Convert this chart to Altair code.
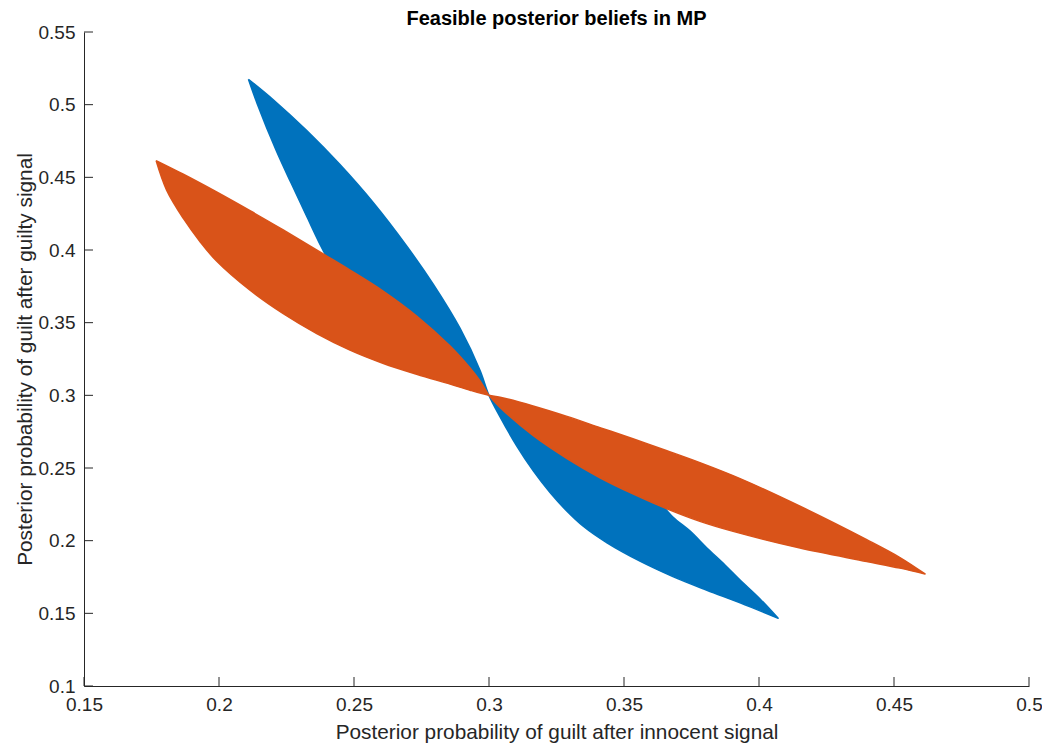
import altair as alt
import pandas as pd

# ---- data (posterior after innocent signal = x, after guilty signal = y)
# Blue region: upper lobe right edge (tip -> centre)
BLUE_UR_X = [0.2109, 0.2201, 0.2325, 0.2448, 0.2571, 0.2695, 0.2794, 0.2893, 0.2967, 0.3000]
BLUE_UR_Y = [0.5175, 0.5034, 0.4822, 0.4588, 0.4327, 0.4028, 0.3763, 0.3460, 0.3171, 0.3000]
# Blue lower lobe, lower edge (after centre -> tip)
BLUE_LL_X = [0.3041, 0.3103, 0.3164, 0.3226, 0.3288, 0.3349, 0.3437, 0.3559, 0.3681, 0.3807, 0.3930, 0.4071]
BLUE_LL_Y = [0.2852, 0.2651, 0.2480, 0.2331, 0.2204, 0.2099, 0.1985, 0.1859, 0.1753, 0.1659, 0.1572, 0.1466]
# Blue lower lobe, upper edge (tip -> centre)
BLUE_LU_X = [0.4071, 0.4004, 0.3930, 0.3874, 0.3807, 0.3744, 0.3681, 0.3596, 0.3485, 0.3337, 0.3189, 0.3078, 0.3000]
BLUE_LU_Y = [0.1466, 0.1599, 0.1729, 0.1833, 0.1950, 0.2067, 0.2163, 0.2335, 0.2473, 0.2645, 0.2796, 0.2916, 0.3000]
# Blue upper lobe left edge (after centre -> tip)
BLUE_UL_X = [0.2893, 0.2781, 0.2670, 0.2559, 0.2467, 0.2389, 0.2326, 0.2267, 0.2211, 0.2141, 0.2109]
BLUE_UL_Y = [0.3123, 0.3247, 0.3381, 0.3557, 0.3755, 0.3986, 0.4227, 0.4461, 0.4688, 0.5009, 0.5175]

# Orange region: left lobe upper edge (tip -> centre)
ORNG_LU_X = [0.1767, 0.1868, 0.1991, 0.2115, 0.2238, 0.2386, 0.2485, 0.2609, 0.2732, 0.2856, 0.2930, 0.2967, 0.3000]
ORNG_LU_Y = [0.4615, 0.4521, 0.4399, 0.4270, 0.4138, 0.3973, 0.3862, 0.3716, 0.3546, 0.3339, 0.3188, 0.3099, 0.3000]
# Orange right lobe lower edge (after centre -> tip)
ORNG_RL_X = [0.3041, 0.3163, 0.3289, 0.3411, 0.3533, 0.3659, 0.3781, 0.3904, 0.4152, 0.4399, 0.4522, 0.4615]
ORNG_RL_Y = [0.2917, 0.2724, 0.2565, 0.2433, 0.2322, 0.2219, 0.2133, 0.2064, 0.1949, 0.1857, 0.1811, 0.1771]
# Orange right lobe upper edge (tip -> centre)
ORNG_RU_X = [0.4615, 0.4522, 0.4399, 0.4152, 0.3930, 0.3781, 0.3659, 0.3533, 0.3411, 0.3289, 0.3163, 0.3041, 0.3000]
ORNG_RU_Y = [0.1771, 0.1884, 0.2007, 0.2237, 0.2427, 0.2537, 0.2619, 0.2701, 0.2778, 0.2855, 0.2927, 0.2987, 0.3000]
# Orange left lobe lower edge (after centre -> tip)
ORNG_LL_X = [0.2930, 0.2856, 0.2732, 0.2609, 0.2485, 0.2362, 0.2238, 0.2115, 0.1991, 0.1930, 0.1868, 0.1806, 0.1767]
ORNG_LL_Y = [0.3035, 0.3077, 0.3145, 0.3219, 0.3311, 0.3425, 0.3562, 0.3723, 0.3924, 0.4057, 0.4217, 0.4412, 0.4615]

X_TICKS = [0.15, 0.2, 0.25, 0.3, 0.35, 0.4, 0.45, 0.5]
Y_TICKS = [0.1, 0.15, 0.2, 0.25, 0.3, 0.35, 0.4, 0.45, 0.5, 0.55]

TITLE = "Feasible posterior beliefs in MP"
X_TITLE = "Posterior probability of guilt after innocent signal"
Y_TITLE = "Posterior probability of guilt after guilty signal"

BLUE = "#0072BD"
ORANGE = "#D95319"
INK = "#262626"
FONT = "Liberation Sans"
W, H = 945, 654


def polygon(parts):
    xs, ys = [], []
    for px, py in parts:
        xs.extend(px)
        ys.extend(py)
    return pd.DataFrame({"x": xs, "y": ys, "i": range(len(xs))})


blue_df = polygon([(BLUE_UR_X, BLUE_UR_Y), (BLUE_LL_X, BLUE_LL_Y),
                   (BLUE_LU_X, BLUE_LU_Y), (BLUE_UL_X, BLUE_UL_Y)])
orange_df = polygon([(ORNG_LU_X, ORNG_LU_Y), (ORNG_RL_X, ORNG_RL_Y),
                     (ORNG_RU_X, ORNG_RU_Y), (ORNG_LL_X, ORNG_LL_Y)])

xscale = alt.Scale(domain=[0.15, 0.5], nice=False, zero=False)
yscale = alt.Scale(domain=[0.1, 0.55], nice=False, zero=False)

xaxis = alt.Axis(values=X_TICKS, format=".2~f", ticks=False, tickSize=0, grid=False,
                 domainColor=INK, domainWidth=1, labelFlush=False,
                 labelFont=FONT, labelFontSize=19, labelColor=INK, labelPadding=9,
                 labelBaseline="top",
                 title=X_TITLE,
                 titleFont=FONT, titleFontSize=20.8, titleFontWeight="normal", titleColor=INK,
                 titleBaseline="alphabetic", titleY=52)
yaxis = alt.Axis(values=Y_TICKS, format=".2~f", ticks=False, tickSize=0, grid=False,
                 domainColor=INK, domainWidth=1, labelFlush=False,
                 labelFont=FONT, labelFontSize=19, labelColor=INK, labelPadding=9,
                 title=Y_TITLE,
                 titleFont=FONT, titleFontSize=20.8, titleFontWeight="normal", titleColor=INK,
                 titleBaseline="alphabetic", titleX=-53, titleY=H / 2, titleAlign="center",
                 titleAngle=270)


def shape(df, color):
    return alt.Chart(df).mark_line(
        fill=color, stroke=color, strokeWidth=1.5, strokeJoin="round",
        interpolate="catmull-rom"
    ).encode(
        x=alt.X("x:Q", scale=xscale, axis=xaxis),
        y=alt.Y("y:Q", scale=yscale, axis=yaxis),
        order=alt.Order("i:Q"),
    )


blue = shape(blue_df, BLUE)
orange = shape(orange_df, ORANGE)

xt = alt.Chart(pd.DataFrame({"x": X_TICKS})).mark_rule(color=INK, strokeWidth=1).encode(
    x=alt.X("x:Q", scale=xscale, axis=xaxis), y=alt.value(H), y2=alt.value(H - 9))
yt = alt.Chart(pd.DataFrame({"y": Y_TICKS})).mark_rule(color=INK, strokeWidth=1).encode(
    y=alt.Y("y:Q", scale=yscale, axis=yaxis), x=alt.value(0), x2=alt.value(9))

title = alt.Chart(pd.DataFrame({"t": [TITLE]})).mark_text(
    font=FONT, fontSize=20, fontWeight="bold", color="#000000",
    align="center", baseline="alphabetic"
).encode(text="t:N", x=alt.value(W / 2), y=alt.value(-7))

chart = alt.layer(blue, orange, xt, yt, title).properties(
    width=W, height=H,
    autosize=alt.AutoSizeParams(type="none"),
    padding={"left": 76, "top": 24, "right": 13, "bottom": 60},
    background="white",
).configure_view(stroke=None)

chart.save("out.html", embed_options={"renderer": "svg", "actions": False})
